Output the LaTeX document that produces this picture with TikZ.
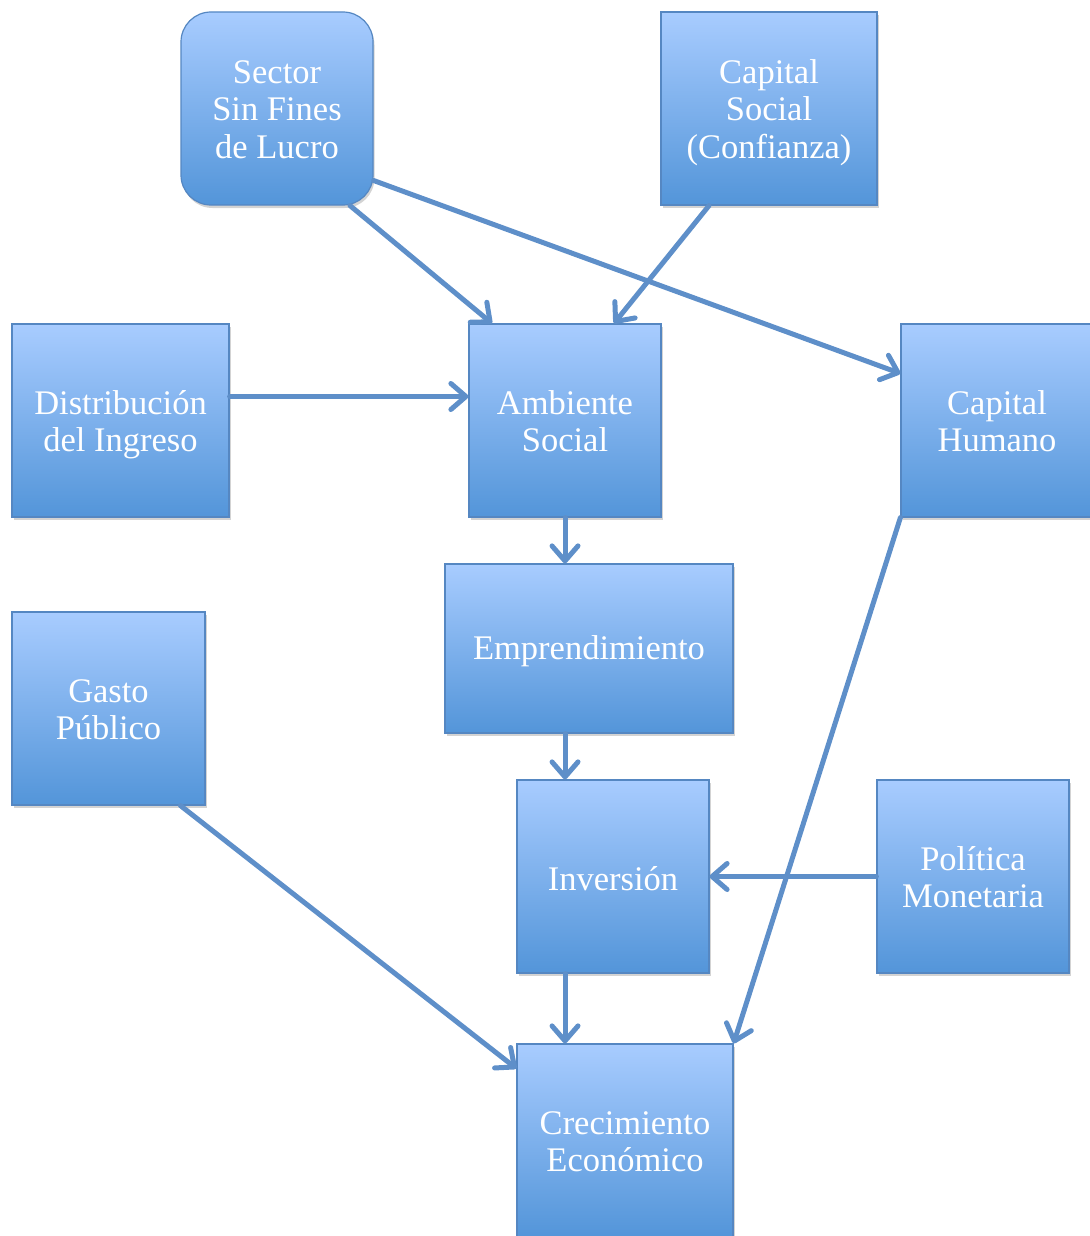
\documentclass[tikz,border=0pt]{standalone}
\usepackage{fontspec}
\setmainfont{Liberation Serif}
\usetikzlibrary{arrows.meta,calc,shadows}
\definecolor{boxtop}{HTML}{A8CCFF}
\definecolor{boxbot}{HTML}{5395D9}
\definecolor{boxedge}{HTML}{5587C2}
\definecolor{arr}{HTML}{5E8FC9}
\newcommand\upA{\rule{0pt}{29pt}}
\newcommand\upB{\rule{0pt}{32pt}}
\newcommand\dnB{\rule[-7.5pt]{0pt}{1pt}}
\begin{document}
\begin{tikzpicture}[x=1pt,y=-1pt,
  boxnode/.style={rectangle, draw=boxedge, line width=1.2pt, top color=boxtop, bottom color=boxbot,
    text=white, align=center, font=\fontsize{34.5}{37.5}\selectfont, inner sep=0pt,
    drop shadow={opacity=0.35,shadow xshift=1.5pt,shadow yshift=-3pt}},
  conn/.style={draw=arr, line width=5pt, line cap=round, -{Straight Barb[round,length=15pt,width=26pt]}}]
\useasboundingbox (0,0) rectangle (1089,1236);
\node[boxnode, rounded corners=30pt, minimum width=192pt, minimum height=193pt] (sector) at (277,108.5) {\upB Sector\\Sin Fines\\de Lucro\dnB};
\node[boxnode, minimum width=216pt, minimum height=193pt] (cap) at (769,108.5) {\upB Capital\\Social\\(Confianza)\dnB};
\node[boxnode, minimum width=217pt, minimum height=193pt] (dist) at (120.5,420.5) {\upB Distribución\\del Ingreso\dnB};
\node[boxnode, minimum width=192pt, minimum height=193pt] (amb) at (565,420.5) {\upB Ambiente\\Social\dnB};
\node[boxnode, minimum width=192pt, minimum height=193pt] (hum) at (997,420.5) {\upB Capital\\Humano\dnB};
\node[boxnode, minimum width=288pt, minimum height=169pt] (emp) at (589,648.5) {\upA Emprendimiento};
\node[boxnode, minimum width=193pt, minimum height=193pt] (gasto) at (108.5,708.5) {\upB Gasto\\Público\dnB};
\node[boxnode, minimum width=192pt, minimum height=193pt] (inv) at (613,876.5) {\upA Inversión};
\node[boxnode, minimum width=192pt, minimum height=193pt] (pol) at (973,876.5) {\upB Política\\Monetaria\dnB};
\node[boxnode, minimum width=216pt, minimum height=193pt] (crec) at (625,1140.5) {\upB Crecimiento\\Económico\dnB};

\coordinate (a1) at ($(emp.south)+(-24,0)$);
\coordinate (a2) at ($(inv.south)+(-48,0)$);
\draw[conn] ($(sector.south)+(73,0)$) -- ($(amb.north)+(-73,0)$);
\draw[conn] ($(cap.south)+(-60,0)$) -- ($(amb.north)+(49,0)$);
\draw[conn] ($(sector.east)+(0,72)$) -- ($(hum.west)+(0,-47)$);
\draw[conn] ($(dist.east)+(0,-24)$) -- ($(amb.west)+(0,-24)$);
\draw[conn] (amb.south) -- (amb.south |- emp.north);
\draw[conn] (a1) -- (a1 |- inv.north);
\draw[conn] (pol.west) -- (inv.east);
\draw[conn] (a2) -- (a2 |- crec.north);
\draw[conn] ($(gasto.south)+(72,0)$) -- ($(crec.west)+(0,-72)$);
\draw[conn] (hum.south west) -- (crec.north east);
\end{tikzpicture}
\end{document}
